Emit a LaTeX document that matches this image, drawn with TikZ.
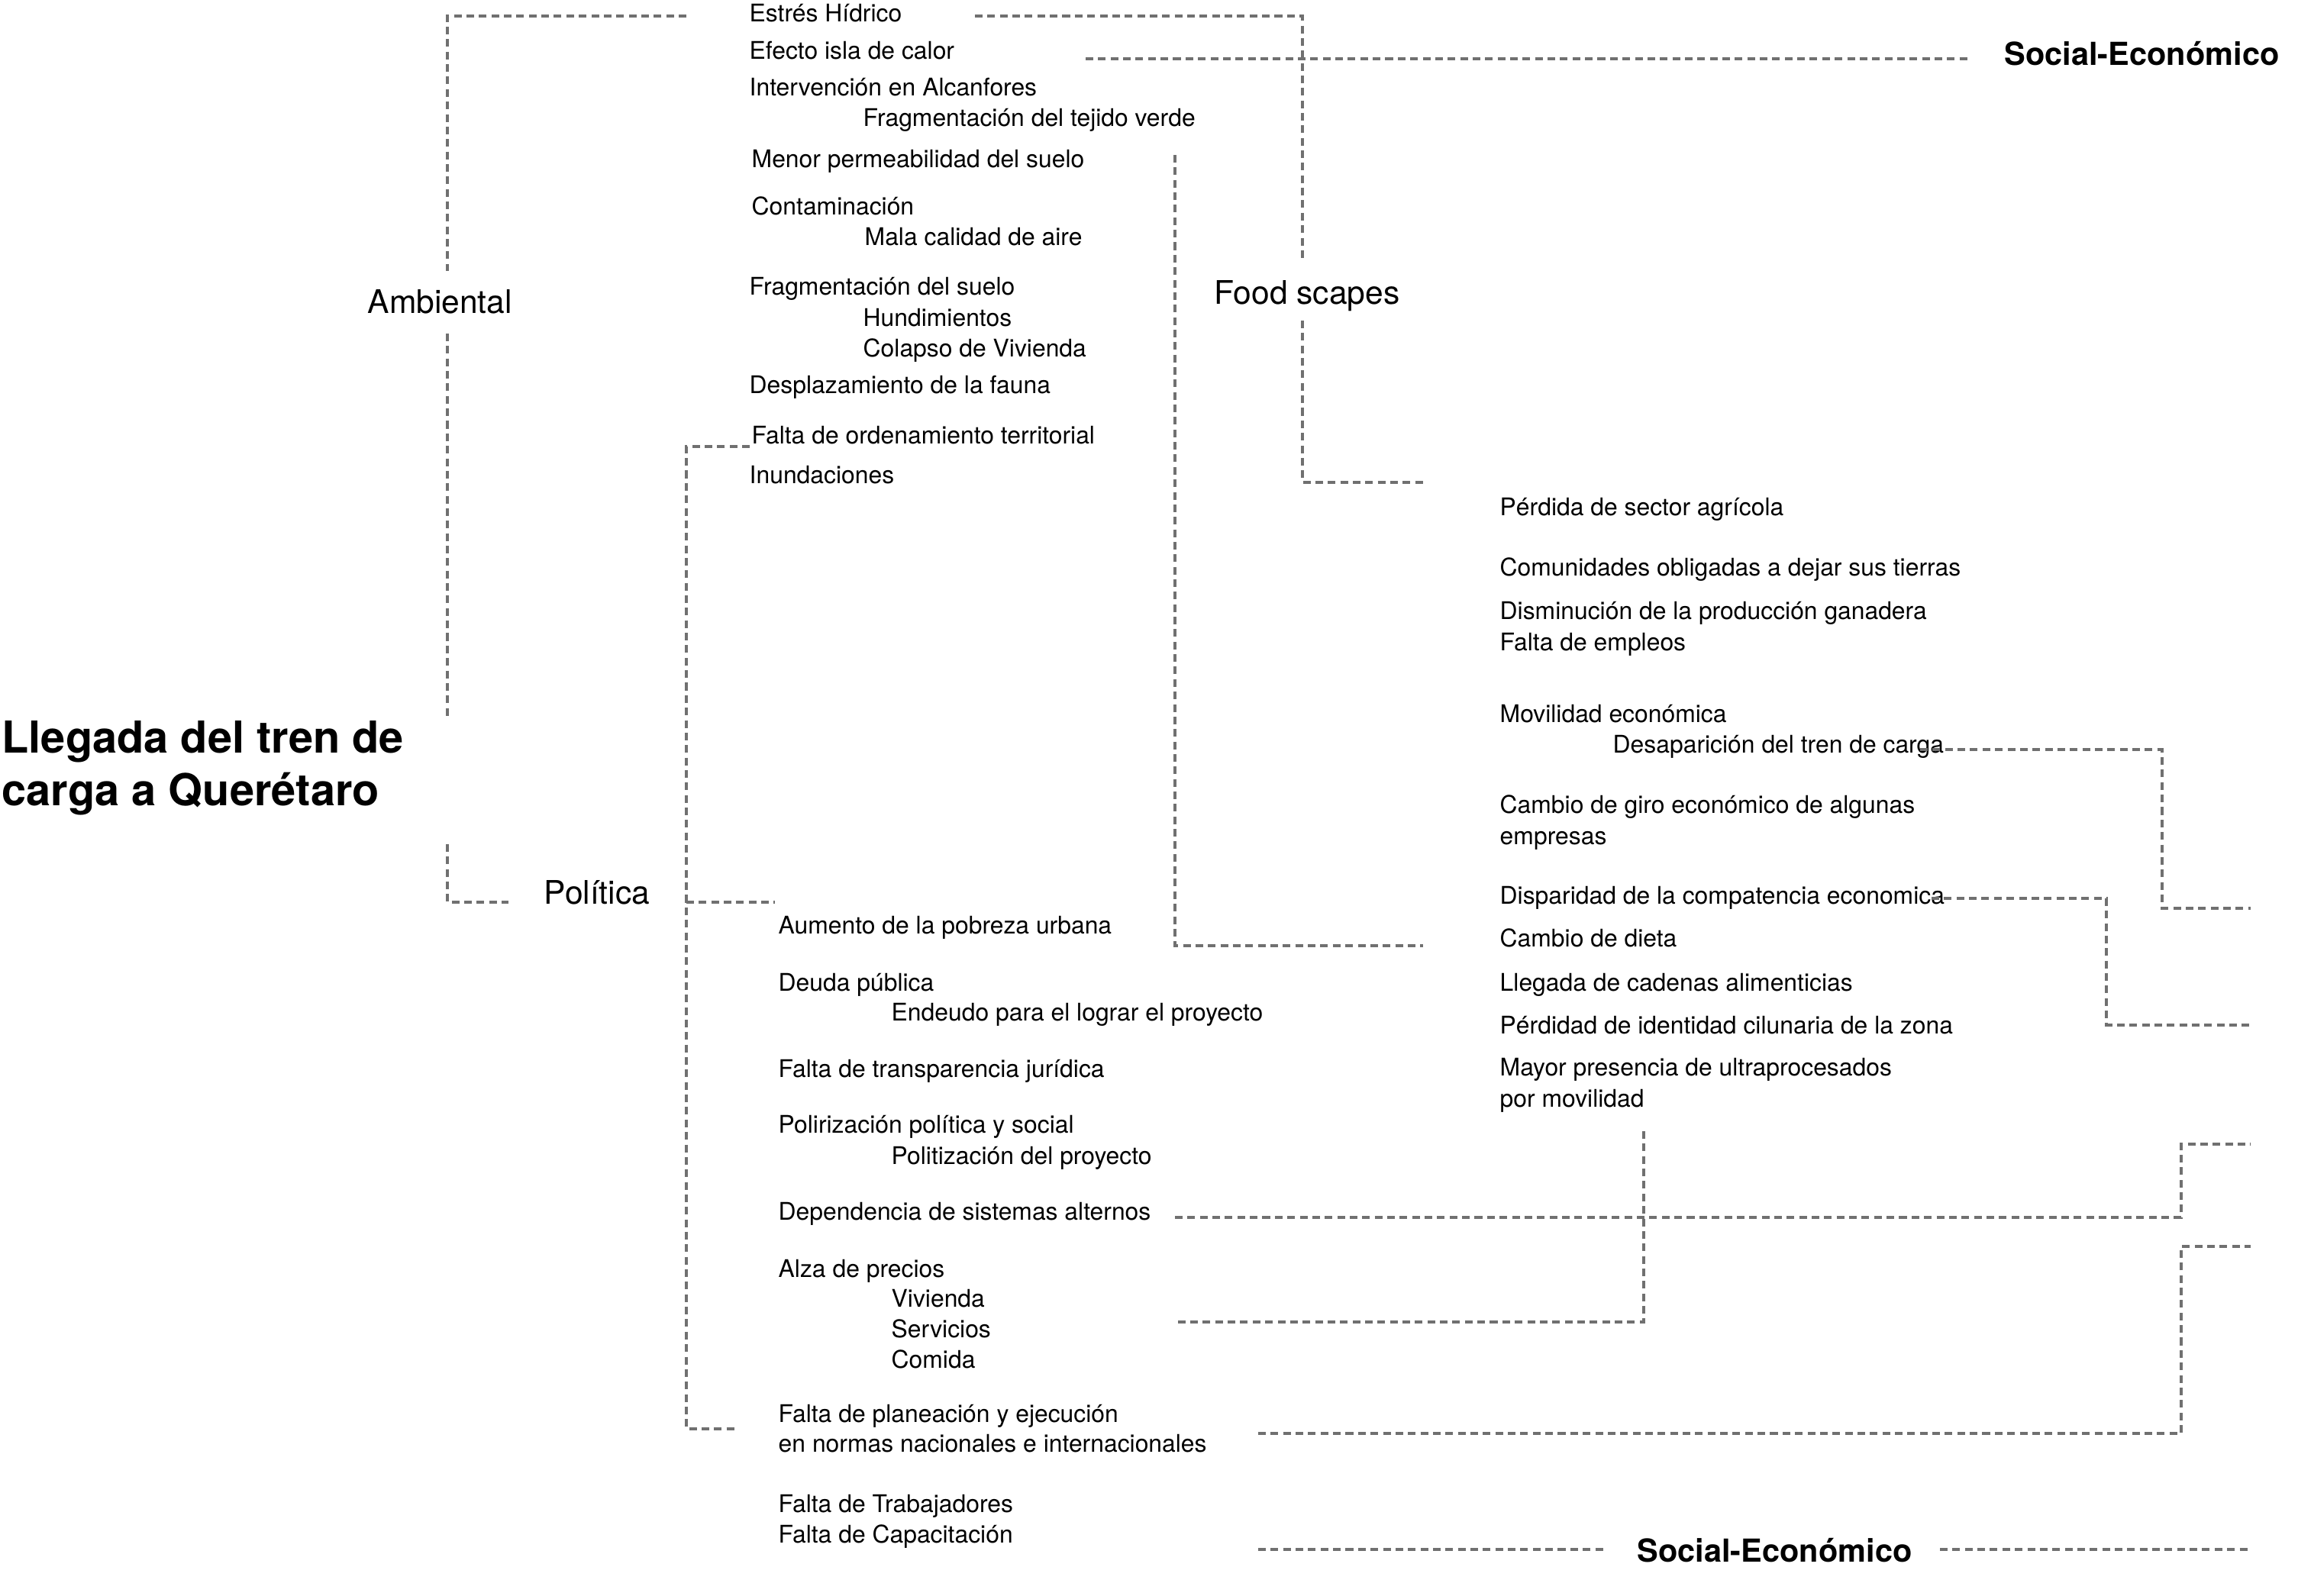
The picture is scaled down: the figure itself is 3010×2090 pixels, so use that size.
\documentclass[tikz,border=0pt]{standalone}
\usepackage{fontspec}
\setmainfont{TeX Gyre Heros}
\definecolor{linegray}{RGB}{112,112,112}
\begin{document}
\begin{tikzpicture}[x=0.01cm,y=-0.01cm,
  txt/.style={anchor=base west,inner sep=0,font=\fontsize{9.06}{11}\selectfont},
  mid/.style={anchor=base west,inner sep=0,font=\fontsize{12.1}{14}\selectfont},
  hdr/.style={anchor=base west,inner sep=0,font=\bfseries\fontsize{11.8}{14}\selectfont},
  ttl/.style={anchor=base west,inner sep=0,font=\bfseries\fontsize{16.4}{19.7}\selectfont},
  dl/.style={draw=linegray,line width=1.1pt,dash pattern=on 2.85pt off 1.8pt}]
\useasboundingbox (0,0) rectangle (3010,2090);

% title and category labels
\node[ttl] (t1) at (2,986) {Llegada del tren de};
\node[ttl] (t2) at (2,1055) {carga a Querétaro};
\node[mid] (amb) at (481,410) {Ambiental};
\node[mid] (pol) at (712,1184) {Política};
\node[mid] (food) at (1590,398) {Food scapes};
\node[hdr] (se1) at (2625,85) {Social-Económico};
\node[hdr] (se2) at (2144,2046) {Social-Económico};

% ambiental column
\node[txt] (n1) at (981,28) {Estrés Hídrico};
\node[txt] (n2) at (981,77) {Efecto isla de calor};
\node[txt] (n3) at (981,125) {Intervención en Alcanfores};
\node[txt] (n3a) at (1130,165) {Fragmentación del tejido verde};
\node[txt] (n4) at (984,219) {Menor permeabilidad del suelo};
\node[txt] (n5) at (984,281) {Contaminación};
\node[txt] (n5a) at (1132,321) {Mala calidad de aire};
\node[txt] (n6) at (981,386) {Fragmentación del suelo};
\node[txt] (n6a) at (1130,427) {Hundimientos};
\node[txt] (n6b) at (1130,467) {Colapso de Vivienda};
\node[txt] (n7) at (981,515) {Desplazamiento de la fauna};
\node[txt] (n8) at (984,581) {Falta de ordenamiento territorial};
\node[txt] (n9) at (981,633) {Inundaciones};

% food scapes column
\node[txt] (r1) at (1964,675) {Pérdida de sector agrícola};
\node[txt] (r2) at (1964,754) {Comunidades obligadas a dejar sus tierras};
\node[txt] (r3) at (1964,811) {Disminución de la producción ganadera};
\node[txt] (r4) at (1964,852) {Falta de empleos};
\node[txt] (r5) at (1964,946) {Movilidad económica};
\node[txt] (r5a) at (2112,986) {Desaparición del tren de carga};
\node[txt] (r6) at (1964,1065) {Cambio de giro económico de algunas};
\node[txt] (r6b) at (1964,1106) {empresas};
\node[txt] (r7) at (1964,1184) {Disparidad de la compatencia economica};
\node[txt] (r8) at (1964,1240) {Cambio de dieta};
\node[txt] (r9) at (1964,1298) {Llegada de cadenas alimenticias};
\node[txt] (r10) at (1964,1354) {Pérdidad de identidad cilunaria de la zona};
\node[txt] (r11) at (1964,1409) {Mayor presencia de ultraprocesados};
\node[txt] (r11b) at (1964,1450) {por movilidad};

% politica column
\node[txt] (q1) at (1019,1223) {Aumento de la pobreza urbana};
\node[txt] (q2) at (1019,1298) {Deuda pública};
\node[txt] (q2a) at (1167,1337) {Endeudo para el lograr el proyecto};
\node[txt] (q3) at (1019,1411) {Falta de transparencia jurídica};
\node[txt] (q4) at (1019,1484) {Polirización política y social};
\node[txt] (q4a) at (1167,1525) {Politización del proyecto};
\node[txt] (q5) at (1019,1598) {Dependencia de sistemas alternos};
\node[txt] (q6) at (1019,1673) {Alza de precios};
\node[txt] (q6a) at (1167,1712) {Vivienda};
\node[txt] (q6b) at (1167,1752) {Servicios};
\node[txt] (q6c) at (1167,1792) {Comida};
\node[txt] (q7) at (1019,1863) {Falta de planeación y ejecución};
\node[txt] (q7b) at (1019,1902) {en normas nacionales e internacionales};
\node[txt] (q8) at (1019,1981) {Falta de Trabajadores};
\node[txt] (q8b) at (1019,2021) {Falta de Capacitación};

% connector end points
\coordinate (a1) at (899,21);
\coordinate (a2) at (586,355);
\coordinate (a3) at (586,437);
\coordinate (a4) at (586,943);
\coordinate (a5) at (586,1106);
\coordinate (a6) at (666,1182);
\coordinate (p1) at (982,585);
\coordinate (pv) at (899,1182);
\coordinate (p2) at (966,1872);
\coordinate (p3) at (1015,1182);
\coordinate (e1) at (1277,21);
\coordinate (e2) at (1706,340);
\coordinate (e3) at (1706,420);
\coordinate (e4) at (1864,632);
\coordinate (f1) at (1422,77);
\coordinate (f2) at (2578,77);
\coordinate (m1) at (1539,203);
\coordinate (m2) at (1864,1239);
\coordinate (d1) at (2515,982);
\coordinate (dk) at (2832,1190);
\coordinate (d2) at (2948,1190);
\coordinate (s1) at (2530,1177);
\coordinate (sk) at (2759,1343);
\coordinate (s2) at (2948,1343);
\coordinate (y1) at (2153,1482);
\coordinate (y2) at (1539,1732);
\coordinate (g1) at (1539,1595);
\coordinate (gk) at (2857,1499);
\coordinate (g2) at (2948,1499);
\coordinate (h1) at (1648,1878);
\coordinate (hk) at (2857,1633);
\coordinate (h2) at (2948,1633);
\coordinate (b1) at (1648,2030);
\coordinate (b2) at (2101,2030);
\coordinate (b3) at (2541,2030);
\coordinate (b4) at (2948,2030);

% connectors
\draw[dl] (a1) -| (a2);
\draw[dl] (a3) -- (a4);
\draw[dl] (a5) |- (a6);
\draw[dl] (p1) -| (pv) |- (p2);
\draw[dl] (pv) -- (p3);
\draw[dl] (e1) -| (e2);
\draw[dl] (e3) |- (e4);
\draw[dl] (f1) -- (f2);
\draw[dl] (m1) |- (m2);
\draw[dl] (d1) -| (dk) -- (d2);
\draw[dl] (s1) -| (sk) -- (s2);
\draw[dl] (y1) |- (y2);
\draw[dl] (g1) -| (gk) -- (g2);
\draw[dl] (h1) -| (hk) -- (h2);
\draw[dl] (b1) -- (b2);
\draw[dl] (b3) -- (b4);
\end{tikzpicture}
\end{document}
